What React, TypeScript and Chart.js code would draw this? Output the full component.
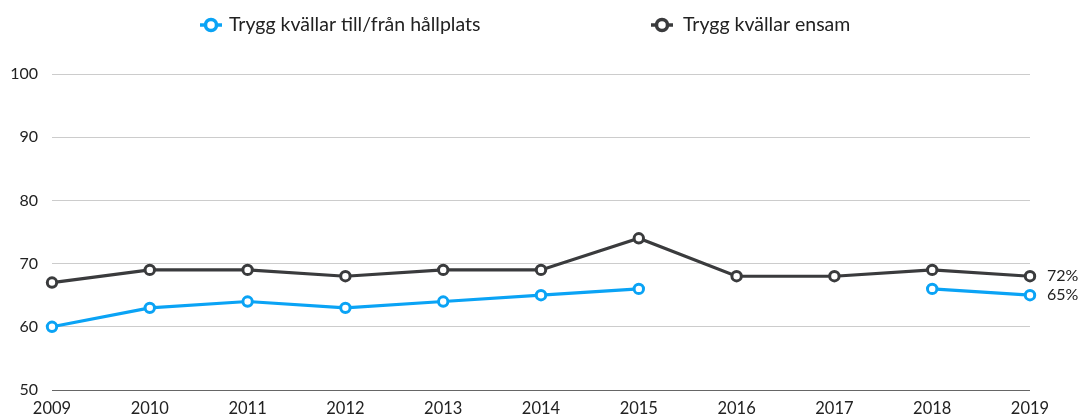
import React, { useEffect, useRef } from "react";
import { Chart, registerables } from "chart.js";

Chart.register(...registerables);

const years = ["2009", "2010", "2011", "2012", "2013", "2014", "2015", "2016", "2017", "2018", "2019"];
const hallplats: (number | null)[] = [60, 63, 64, 63, 64, 65, 66, null, null, 66, 65];
const ensam: (number | null)[] = [67, 69, 69, 68, 69, 69, 74, 68, 68, 69, 68];
const seriesNames = ["Trygg kvällar till/från hållplats", "Trygg kvällar ensam"];
const endLabels = ["65%", "72%"];
const yTicks = [50, 60, 70, 80, 90, 100];

const BLUE = "#0aa3f5";
const DARK = "#3a3b3d";
const FONT = "Lato, 'Open Sans', sans-serif";

const legendPos = [
  { mx: 211, tx: 229 },
  { mx: 662, tx: 683 },
];

const customLegend = {
  id: "customLegend",
  afterDraw(chart: any) {
    const ctx = chart.ctx;
    ctx.save();
    chart.data.datasets.forEach((ds: any, i: number) => {
      const p = legendPos[i];
      ctx.beginPath();
      ctx.moveTo(p.mx - 11, 25);
      ctx.lineTo(p.mx + 11, 25);
      ctx.lineWidth = 3.5;
      ctx.strokeStyle = ds.borderColor;
      ctx.stroke();
      ctx.beginPath();
      ctx.arc(p.mx, 25, 5.5, 0, Math.PI * 2);
      ctx.fillStyle = "#fff";
      ctx.fill();
      ctx.lineWidth = 3.5;
      ctx.stroke();
      ctx.font = `19.5px ${FONT}`;
      ctx.fillStyle = "#222";
      ctx.textBaseline = "middle";
      ctx.textAlign = "left";
      ctx.fillText(ds.label, p.tx, 25);
    });
    ctx.restore();
  },
};

const endLabelPlugin = {
  id: "endLabels",
  afterDatasetsDraw(chart: any) {
    const ctx = chart.ctx;
    ctx.save();
    ctx.font = `16px ${FONT}`;
    ctx.fillStyle = "#222";
    ctx.textBaseline = "middle";
    ctx.textAlign = "left";
    chart.data.datasets.forEach((ds: any, i: number) => {
      const meta = chart.getDatasetMeta(i);
      const pt = meta.data[meta.data.length - 1];
      if (pt) ctx.fillText(endLabels[i], pt.x + 17, pt.y);
    });
    ctx.restore();
  },
};

export default function App() {
  const ref = useRef<HTMLCanvasElement>(null);
  useEffect(() => {
    if (!ref.current) return;
    const chart = new Chart(ref.current, {
      type: "line",
      data: {
        labels: years,
        datasets: [
          {
            label: seriesNames[0],
            data: hallplats,
            borderColor: BLUE,
            backgroundColor: "#fff",
            borderWidth: 3.2,
            pointRadius: 4.7,
            pointBorderWidth: 3,
            pointBackgroundColor: "#fff",
            pointBorderColor: BLUE,
            spanGaps: false,
            tension: 0,
          },
          {
            label: seriesNames[1],
            data: ensam,
            borderColor: DARK,
            backgroundColor: "#fff",
            borderWidth: 3.2,
            pointRadius: 4.7,
            pointBorderWidth: 3,
            pointBackgroundColor: "#fff",
            pointBorderColor: DARK,
            tension: 0,
          },
        ],
      },
      options: {
        animation: false,
        responsive: true,
        maintainAspectRatio: false,
        layout: { padding: { left: 0, right: 51, top: 74, bottom: 0 } },
        plugins: {
          legend: { display: false },
          tooltip: { enabled: false },
        },
        scales: {
          x: {
            offset: false,
            grid: { display: false, drawTicks: false },
            border: { display: false },
            ticks: { color: "#222", font: { family: FONT, size: 16.5 }, padding: 9, maxRotation: 0 },
            afterFit(scale: any) {
              scale.height = 29;
            },
          },
          y: {
            min: 50,
            max: 100,
            afterBuildTicks(scale: any) {
              scale.ticks = yTicks.map((v) => ({ value: v }));
            },
            afterFit(scale: any) {
              scale.width = 52;
            },
            grid: {
              drawTicks: false,
              color: (c: any) => (c.tick && c.tick.value === 50 ? "#666" : "#cccccc"),
              lineWidth: 1,
            },
            border: { display: false },
            ticks: { color: "#222", font: { family: FONT, size: 16 }, padding: 14 },
          },
        },
      },
      plugins: [endLabelPlugin, customLegend],
    } as any);
    return () => chart.destroy();
  }, []);
  return (
    <div style={{ position: "absolute", left: 0, top: 0, width: 1081, height: 419, background: "#fff" }}>
      <canvas ref={ref} />
    </div>
  );
}
